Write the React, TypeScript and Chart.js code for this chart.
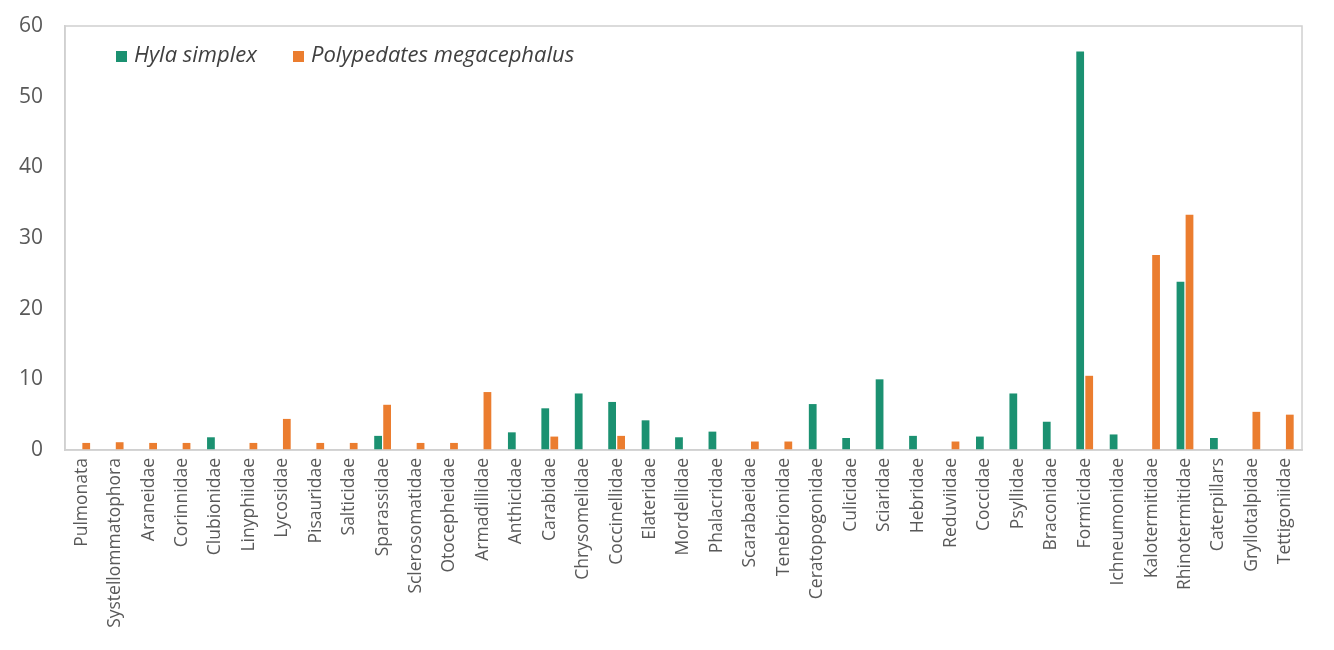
import React, { useEffect, useRef } from "react";
import { Chart, registerables } from "chart.js";

Chart.register(...registerables);

const categories = [
  "Pulmonata", "Systellommatophora", "Araneidae", "Corinnidae", "Clubionidae",
  "Linyphiidae", "Lycosidae", "Pisauridae", "Salticidae", "Sparassidae",
  "Sclerosomatidae", "Otocepheidae", "Armadillidae", "Anthicidae", "Carabidae",
  "Chrysomelidae", "Coccinellidae", "Elateridae", "Mordellidae", "Phalacridae",
  "Scarabaeidae", "Tenebrionidae", "Ceratopogonidae", "Culicidae", "Sciaridae",
  "Hebridae", "Reduviidae", "Coccidae", "Psyllidae", "Braconidae",
  "Formicidae", "Ichneumonidae", "Kalotermitidae", "Rhinotermitidae", "Caterpillars",
  "Gryllotalpidae", "Tettigoniidae",
];

const hylaSimplex = [
  0, 0, 0, 0, 1.8,
  0, 0, 0, 0, 2.0,
  0, 0, 0, 2.5, 5.9,
  8.0, 6.8, 4.2, 1.8, 2.6,
  0, 0, 6.5, 1.7, 10.0,
  2.0, 0, 1.9, 8.0, 4.0,
  56.4, 2.2, 0, 23.8, 1.7,
  0, 0,
];

const polypedatesMegacephalus = [
  1.0, 1.1, 1.0, 1.0, 0,
  1.0, 4.4, 1.0, 1.0, 6.4,
  1.0, 1.0, 8.2, 0, 1.9,
  0, 2.0, 0, 0, 0,
  1.2, 1.2, 0, 0, 0,
  0, 1.2, 0, 0, 0,
  10.5, 0, 27.6, 33.3, 0,
  5.4, 5.0,
];

const seriesNames = ["Hyla simplex", "Polypedates megacephalus"];
const seriesColors = ["#1b9171", "#eb7d2f"];
const yTicks = [0, 10, 20, 30, 40, 50, 60];

const FONT = "'Open Sans', 'Noto Sans', sans-serif";

const framePlugin = {
  id: "frameAndLegend",
  afterDraw(chart: any) {
    const { ctx, chartArea } = chart;
    ctx.save();
    ctx.strokeStyle = "#d0d0d0";
    ctx.lineWidth = 1.5;
    ctx.strokeRect(chartArea.left, chartArea.top, chartArea.right - chartArea.left, chartArea.bottom - chartArea.top);

    // legend inside plot area
    const items = [
      { x: 116, label: seriesNames[0], color: seriesColors[0] },
      { x: 293, label: seriesNames[1], color: seriesColors[1] },
    ];
    const cy = 56;
    ctx.font = `italic 22px ${FONT}`;
    ctx.textBaseline = "middle";
    ctx.textAlign = "left";
    items.forEach((it) => {
      ctx.fillStyle = it.color;
      ctx.fillRect(it.x, cy - 5, 11, 11);
      ctx.fillStyle = "#404040";
      ctx.fillText(it.label, it.x + 18, cy);
    });
    ctx.restore();
  },
};

export default function App() {
  const canvasRef = useRef<HTMLCanvasElement | null>(null);

  useEffect(() => {
    document.body.style.margin = "0";
    const canvas = canvasRef.current;
    if (!canvas) return;
    const chart = new Chart(canvas, {
      type: "bar",
      data: {
        labels: categories,
        datasets: [
          {
            label: seriesNames[0],
            data: hylaSimplex,
            backgroundColor: seriesColors[0],
            categoryPercentage: 0.54,
            barPercentage: 0.86,
          },
          {
            label: seriesNames[1],
            data: polypedatesMegacephalus,
            backgroundColor: seriesColors[1],
            categoryPercentage: 0.54,
            barPercentage: 0.86,
          },
        ],
      },
      options: {
        responsive: true,
        maintainAspectRatio: false,
        animation: false,
        layout: { padding: { top: 26, right: 32, left: 0, bottom: 0 } },
        plugins: {
          legend: { display: false },
          tooltip: { enabled: false },
        },
        scales: {
          x: {
            grid: { display: false, drawTicks: false },
            border: { display: true, color: "#d0d0d0", width: 1.5 },
            ticks: {
              autoSkip: false,
              minRotation: 90,
              maxRotation: 90,
              padding: 8,
              color: "#595959",
              font: { family: FONT, size: 17.5 },
            },
            afterFit(scale: any) {
              scale.height = 200;
              scale.paddingLeft = 0;
              scale.paddingRight = 0;
            },
          },
          y: {
            min: 0,
            max: 60,
            grid: { display: false, drawTicks: false },
            border: { display: true, color: "#d0d0d0", width: 1.5 },
            ticks: {
              stepSize: 10,
              padding: 22,
              color: "#595959",
              font: { family: FONT, size: 21 },
              callback: (v: any) => (yTicks.includes(Number(v)) ? String(v) : ""),
            },
            afterFit(scale: any) {
              scale.width = 65;
              scale.paddingTop = 0;
              scale.paddingBottom = 0;
            },
          },
        },
      },
      plugins: [framePlugin],
    });
    return () => chart.destroy();
  }, []);

  return (
    <div style={{ position: "relative", width: 1334, height: 650, background: "#ffffff" }}>
      <canvas ref={canvasRef} />
    </div>
  );
}
